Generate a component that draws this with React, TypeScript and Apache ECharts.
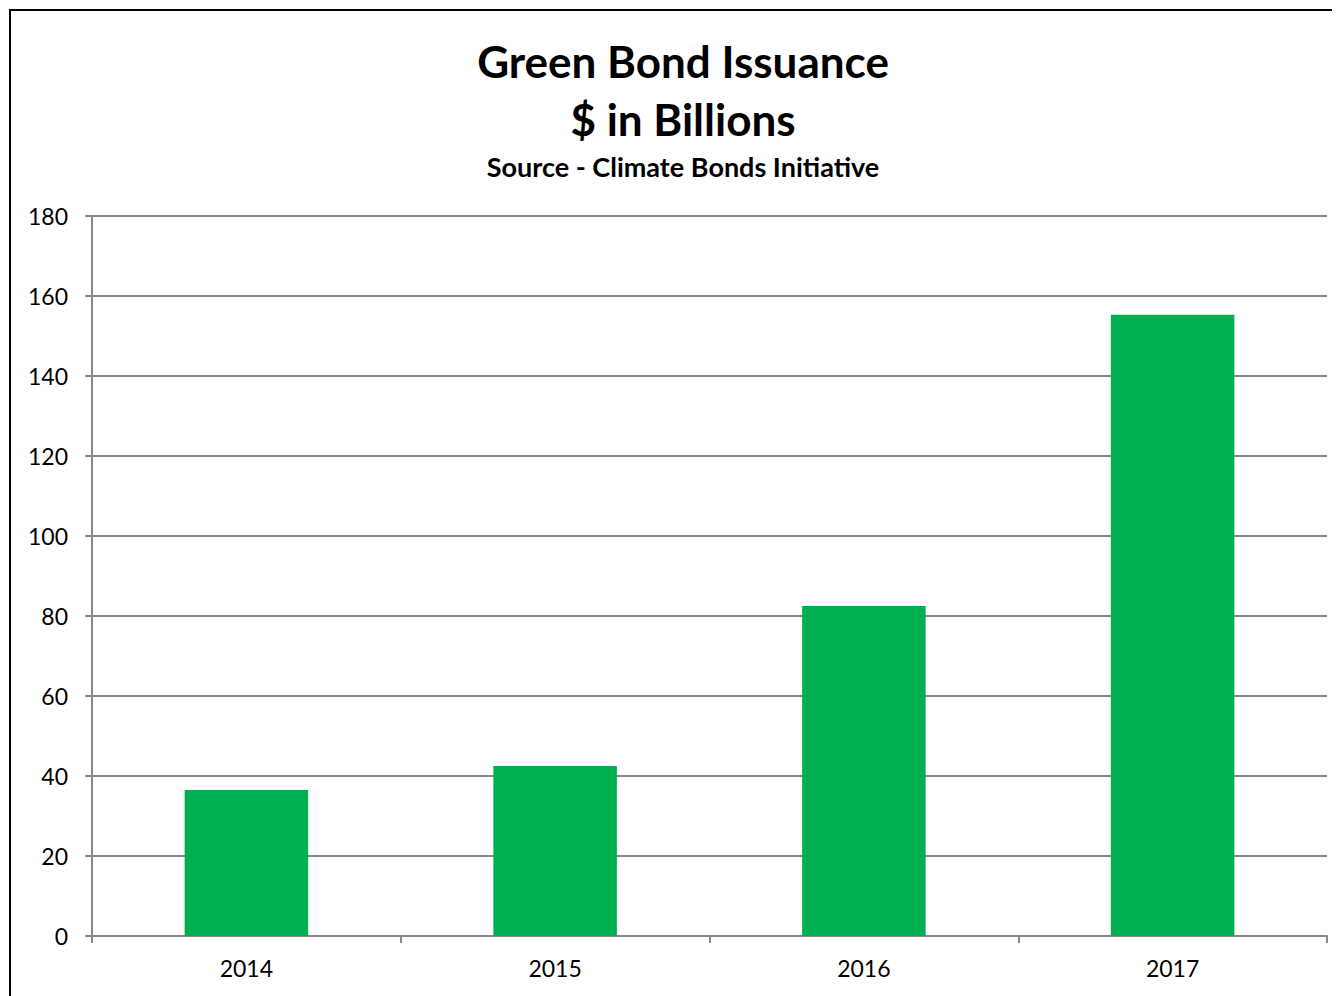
import React, { useEffect, useRef } from "react";
import * as echarts from "echarts";

const categories = ["2014", "2015", "2016", "2017"];
const issuance = [36.5, 42.5, 82.5, 155.3];
const titleLines = ["Green Bond Issuance", "$ in Billions"];
const subtitle = "Source - Climate Bonds Initiative";

const FONT = "Lato, 'Open Sans', sans-serif";

export default function App() {
  const ref = useRef<HTMLDivElement>(null);
  useEffect(() => {
    if (!ref.current) return;
    const chart = echarts.init(ref.current, undefined, { renderer: "svg" });
    chart.setOption({
      animation: false,
      backgroundColor: "#ffffff",
      textStyle: { fontFamily: FONT },
      graphic: [
        {
          type: "rect",
          shape: { x: 2, y: 2, width: 1400, height: 1100 },
          style: { fill: "none", stroke: "#000", lineWidth: 2 },
          silent: true,
        },
        {
          type: "text",
          x: 675,
          y: 53,
          style: {
            text: titleLines[0],
            fontFamily: FONT,
            fontWeight: "bold",
            fontSize: 44,
            fill: "#000",
            align: "center",
            verticalAlign: "middle",
          },
        },
        {
          type: "text",
          x: 675,
          y: 111,
          style: {
            text: titleLines[1],
            fontFamily: FONT,
            fontWeight: "bold",
            fontSize: 44,
            fill: "#000",
            align: "center",
            verticalAlign: "middle",
          },
        },
        {
          type: "text",
          x: 675,
          y: 158,
          style: {
            text: subtitle,
            fontFamily: FONT,
            fontWeight: "bold",
            fontSize: 27,
            fill: "#000",
            align: "center",
            verticalAlign: "middle",
          },
        },
      ],
      grid: { left: 84, right: 13, top: 208, bottom: 60, containLabel: false },
      xAxis: {
        type: "category",
        data: categories,
        axisLine: { show: true, lineStyle: { color: "#888", width: 2 } },
        axisTick: { show: true, length: 7, alignWithLabel: false, lineStyle: { color: "#888", width: 2 } },
        axisLabel: { color: "#000", fontSize: 23, margin: 20, fontFamily: FONT },
        splitLine: { show: false },
      },
      yAxis: {
        type: "value",
        min: 0,
        max: 180,
        interval: 20,
        axisLine: { show: true, lineStyle: { color: "#888", width: 2 } },
        axisTick: { show: true, length: 7, lineStyle: { color: "#888", width: 2 } },
        axisLabel: { color: "#000", fontSize: 23, margin: 24, fontFamily: FONT },
        splitLine: { show: true, lineStyle: { color: "#888", width: 2 } },
      },
      series: [
        {
          type: "bar",
          data: issuance,
          barWidth: "40%",
          itemStyle: { color: "#00AF50" },
        },
      ],
    });
    return () => chart.dispose();
  }, []);
  return <div ref={ref} style={{ width: 1332, height: 988 }} />;
}
